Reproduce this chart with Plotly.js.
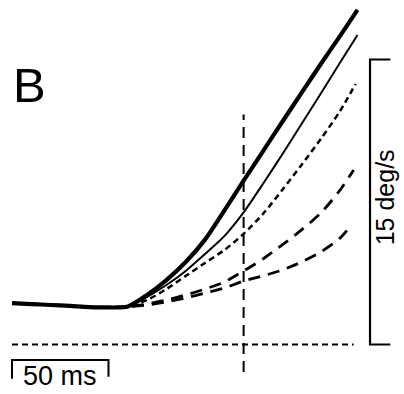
<!DOCTYPE html>
<html>
<head>
<meta charset="utf-8">
<script src="https://cdn.plot.ly/plotly-3.0.1.min.js"></script>
<style>
  html, body { margin: 0; padding: 0; background: #fff; }
  #chart { width: 404px; height: 394px; }
</style>
</head>
<body>
<div id="chart"></div>
<script>
// Eye velocity traces (deg/s) against time (ms); shared sample times,
// each trace then ends at its own final time.
const timeMs = [0, 10, 20, 30, 40, 50, 60, 70, 80, 90, 100, 110, 120, 130, 140, 150, 160, 170];
const endTimeMs = [179, 179, 178, 177, 175];

const thickSolid = [2.18, 2.13, 2.08, 2.03, 1.97, 1.95, 2.0, 2.61, 3.39, 4.34, 5.52, 7.05, 8.62, 10.16, 11.71, 13.24, 14.76, 16.24, 17.61];
const thinSolid  = [2.18, 2.13, 2.08, 2.03, 1.97, 1.95, 2.0, 2.50, 3.13, 3.87, 4.76, 5.70, 6.95, 8.45, 10.00, 11.60, 13.21, 14.84, 16.29];
const shortDash  = [2.18, 2.13, 2.08, 2.03, 1.97, 1.95, 2.0, 2.34, 2.92, 3.61, 4.29, 4.97, 5.82, 6.87, 8.13, 9.45, 10.82, 12.29, 13.71];
const longDashHi = [2.18, 2.13, 2.08, 2.03, 1.97, 1.95, 2.0, 2.13, 2.34, 2.61, 2.92, 3.29, 3.87, 4.50, 5.24, 6.03, 6.92, 8.13, 9.18];
const longDashLo = [2.18, 2.13, 2.08, 2.03, 1.97, 1.95, 2.0, 2.08, 2.24, 2.45, 2.71, 2.97, 3.34, 3.61, 3.92, 4.34, 4.87, 5.61, 6.18];

// Reference marks
const zeroLineT = [0, 177];
const markerTimeMs = 120;
const markerSpan = [-1.45, 12.1];
const timeBarT = [0, 0, 50, 50];
const timeBarV = [-1.8, -0.82, -0.82, -1.7];
const velBarT = [196, 185.5, 185.5, 196];
const velBarV = [0, 0, 15, 15];

function trace(vals, i, width, dash) {
  return {
    x: timeMs.concat([endTimeMs[i]]),
    y: vals,
    mode: 'lines',
    line: { color: '#000', width: width, dash: dash, shape: 'spline', smoothing: 0.8 },
    hoverinfo: 'skip'
  };
}

const data = [
  { x: zeroLineT, y: [0, 0], mode: 'lines', line: { color: '#000', width: 2, dash: '6px,4px' } },
  { x: [markerTimeMs, markerTimeMs], y: markerSpan, mode: 'lines', line: { color: '#000', width: 2, dash: '11px,7px' } },
  trace(longDashLo, 4, 2.8, '12px,8px'),
  trace(longDashHi, 3, 2.8, '12px,8px'),
  trace(shortDash, 2, 2.5, '6px,4px'),
  trace(thinSolid, 1, 2, 'solid'),
  trace(thickSolid, 0, 4.2, 'solid'),
  { x: timeBarT, y: timeBarV, mode: 'lines', line: { color: '#000', width: 2 } },
  { x: velBarT, y: velBarV, mode: 'lines', line: { color: '#000', width: 2.2 } }
];

const font = 'Liberation Sans, Arial, Helvetica, sans-serif';

const layout = {
  width: 404,
  height: 394,
  margin: { l: 0, r: 0, t: 0, b: 0 },
  paper_bgcolor: '#fff',
  plot_bgcolor: '#fff',
  showlegend: false,
  xaxis: { range: [-6.22, 203.1], visible: false, fixedrange: true },
  yaxis: { range: [-2.605, 18.13], visible: false, fixedrange: true },
  annotations: [
    { x: 9.3, y: 13.66, xref: 'x', yref: 'y', text: 'B', showarrow: false,
      xanchor: 'center', yanchor: 'middle', font: { family: font, size: 49, color: '#000' } },
    { x: 25.1, y: -1.66, xref: 'x', yref: 'y', text: '50 ms', showarrow: false,
      xanchor: 'center', yanchor: 'middle', font: { family: font, size: 27, color: '#000' } },
    { x: 193.4, y: 7.76, xref: 'x', yref: 'y', text: '15 deg/s', showarrow: false, textangle: -90,
      xanchor: 'center', yanchor: 'middle', font: { family: font, size: 25, color: '#000' } }
  ]
};

Plotly.newPlot('chart', data, layout, { displayModeBar: false, staticPlot: true });
</script>
</body>
</html>
